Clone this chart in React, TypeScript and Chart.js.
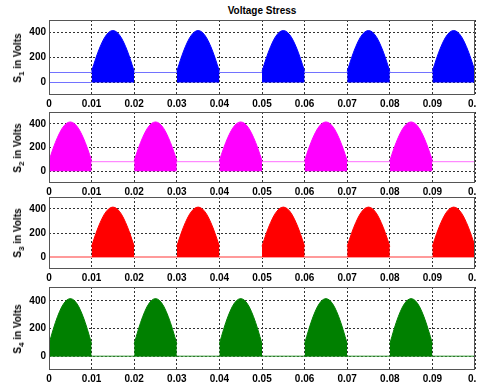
import React, { useEffect, useRef } from "react";
import { Chart, registerables } from "chart.js";

Chart.register(...registerables);

// ---------- data ----------
const TITLE = "Voltage Stress";
const X_MIN = 0;
const X_MAX = 0.1;
const X_STEP = 0.01;
const Y_MIN = -100;
const Y_MAX = 500;
const Y_TICKS = [0, 200, 400];

// one conduction pulse envelope, sampled every 0.5 ms across a 10 ms pulse (volts)
const PULSE_SAMPLE_STEP = 0.0005;
const ENVELOPE = [89, 143, 195, 243, 286, 324, 357, 382, 401, 412, 416, 412, 401, 382, 357, 324, 286, 243, 195, 143, 89];

const S1_PULSE_STARTS = [0.01, 0.03, 0.05, 0.07, 0.09];
const S2_PULSE_STARTS = [0.0, 0.02, 0.04, 0.06, 0.08];
const S3_PULSE_STARTS = [0.01, 0.03, 0.05, 0.07, 0.09];
const S4_PULSE_STARTS = [0.0, 0.02, 0.04, 0.06, 0.08];

// off-state traces (null = gap)
const S1_IDLE_T = [0, 0.1, null, 0, 0.01];
const S1_IDLE_V = [80, 80, null, 0, 0];
const S2_IDLE_T = [0, 0.1];
const S2_IDLE_V = [80, 80];
const S3_IDLE_T = [0, 0, 0.1];
const S3_IDLE_V = [80, 0, 0];
const S4_IDLE_T = [0, 0.1];
const S4_IDLE_V = [0, 0];

const SUBSCRIPTS = ["1", "2", "3", "4"];
const PULSE_STARTS = [S1_PULSE_STARTS, S2_PULSE_STARTS, S3_PULSE_STARTS, S4_PULSE_STARTS];
const IDLE_T = [S1_IDLE_T, S2_IDLE_T, S3_IDLE_T, S4_IDLE_T];
const IDLE_V = [S1_IDLE_V, S2_IDLE_V, S3_IDLE_V, S4_IDLE_V];

// ---------- styles / layout ----------
const FILL_COLORS = ["#0000ff", "#ff00ff", "#ff0000", "#008000"];
const IDLE_COLORS = ["#7272ff", "#ff6eff", "#ff9a9a", "#2f9a2f"];
const IDLE_WIDTHS = [1, 1, 2, 1];
const PANEL_TOPS = [20, 112, 197, 287];
const PANEL_HEIGHTS = [75, 71, 72, 83];
const AXIS_H = 18;
const Y_AXIS_W = 49;
const WIDTH = 477;
const FONT_FAMILY = '"Liberation Sans", Arial, Helvetica, sans-serif';

function buildPulses(starts: number[]) {
  const pts: { x: number; y: number | null }[] = [];
  starts.forEach((s) => {
    ENVELOPE.forEach((v, k) => pts.push({ x: s + k * PULSE_SAMPLE_STEP, y: v }));
    pts.push({ x: s + ENVELOPE.length * PULSE_SAMPLE_STEP, y: null });
  });
  return pts;
}

function buildIdle(ts: (number | null)[], vs: (number | null)[]) {
  return ts.map((t, i) => ({ x: t === null ? NaN : t, y: vs[i] }));
}

const framePlugin = {
  id: "frame",
  afterDatasetsDraw(chart: any) {
    const { ctx, chartArea } = chart;
    ctx.save();
    ctx.strokeStyle = "#555";
    ctx.lineWidth = 1;
    ctx.setLineDash([]);
    ctx.strokeRect(
      chartArea.left + 0.5,
      chartArea.top + 0.5,
      chartArea.right - chartArea.left - 1,
      chartArea.bottom - chartArea.top - 1
    );
    ctx.restore();
  },
};

function Panel({ index }: { index: number }) {
  const ref = useRef<HTMLCanvasElement | null>(null);
  const top = PANEL_TOPS[index];
  const h = PANEL_HEIGHTS[index];

  useEffect(() => {
    if (!ref.current) return;
    const font = { family: FONT_FAMILY, size: 10, weight: "bold" as const };
    const chart = new Chart(ref.current, {
      type: "line",
      data: {
        datasets: [
          {
            data: buildPulses(PULSE_STARTS[index]) as any,
            borderColor: FILL_COLORS[index],
            backgroundColor: FILL_COLORS[index],
            borderWidth: 1,
            pointRadius: 0,
            tension: 0,
            fill: "origin",
            spanGaps: false,
          },
          {
            data: buildIdle(IDLE_T[index], IDLE_V[index]) as any,
            borderColor: IDLE_COLORS[index],
            borderWidth: IDLE_WIDTHS[index],
            pointRadius: 0,
            tension: 0,
            fill: false,
            spanGaps: false,
          },
        ],
      },
      options: {
        animation: false,
        responsive: false,
        events: [],
        layout: { padding: { left: 0, right: 2, top: 0, bottom: 0 } },
        plugins: {
          legend: { display: false },
          tooltip: { enabled: false },
          title: { display: false },
        },
        scales: {
          x: {
            type: "linear",
            min: X_MIN,
            max: X_MAX,
            ticks: {
              stepSize: X_STEP,
              autoSkip: false,
              maxRotation: 0,
              padding: 3,
              color: "#000",
              font,
              callback: (v: any) => {
                const n = Number(v);
                return n === 0 ? "0" : String(parseFloat(n.toFixed(2)));
              },
            },
            grid: { color: "#333", lineWidth: 1, drawTicks: false },
            border: { display: false, dash: [2, 2] },
            afterFit: (s: any) => {
              s.height = AXIS_H;
              s.paddingLeft = 0;
              s.paddingRight = 0;
            },
          },
          y: {
            type: "linear",
            min: Y_MIN,
            max: Y_MAX,
            afterBuildTicks: (s: any) => {
              s.ticks = Y_TICKS.map((value) => ({ value }));
            },
            ticks: {
              padding: 3,
              color: "#000",
              font,
              callback: (v: any) => String(v),
            },
            grid: { color: "#333", lineWidth: 1, drawTicks: false },
            border: { display: false, dash: [2, 2] },
            afterFit: (s: any) => {
              s.width = Y_AXIS_W;
              s.paddingTop = 0;
              s.paddingBottom = 0;
            },
          },
        },
      } as any,
      plugins: [framePlugin],
    });
    return () => chart.destroy();
  }, [index]);

  return (
    <>
      <canvas
        ref={ref}
        width={WIDTH}
        height={h + AXIS_H}
        style={{ position: "absolute", left: 0, top, width: WIDTH, height: h + AXIS_H }}
      />
      <div
        style={{
          position: "absolute",
          left: 18,
          top: top + h / 2,
          transform: "translate(-50%, -50%) rotate(-90deg)",
          font: `bold 10px ${FONT_FAMILY}`,
          lineHeight: "12px",
          whiteSpace: "nowrap",
          color: "#000",
        }}
      >
        S<sub style={{ fontSize: "8px", lineHeight: 0 }}>{SUBSCRIPTS[index]}</sub> in Volts
      </div>
    </>
  );
}

export default function App() {
  return (
    <div
      style={{
        position: "absolute",
        left: 0,
        top: 0,
        width: WIDTH,
        height: 390,
        background: "#fff",
        overflow: "hidden",
      }}
    >
      <div
        style={{
          position: "absolute",
          left: 262,
          top: 10,
          transform: "translate(-50%, -50%)",
          font: `bold 10px ${FONT_FAMILY}`,
          whiteSpace: "nowrap",
          color: "#000",
        }}
      >
        {TITLE}
      </div>
      {[0, 1, 2, 3].map((i) => (
        <Panel key={i} index={i} />
      ))}
    </div>
  );
}
